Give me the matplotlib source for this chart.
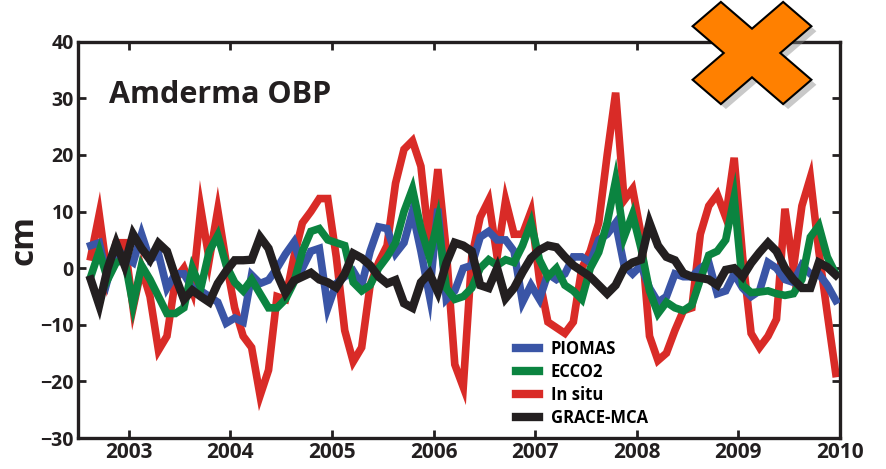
import numpy as np
import matplotlib
matplotlib.use("Agg")
import matplotlib.pyplot as plt
from matplotlib.patches import Polygon

plt.rcParams['font.family'] = ['Open Sans', 'DejaVu Sans']

# monthly values, Aug 2002 .. Dec 2009
t = 2002 + (np.arange(7, 7 + 89) + 0.5) / 12.0

insitu = [2, 9.5, -1.5, 4.5, 4.5, -7, 0, -5, -14.5, -12, -2, 0, -4, 10.5, 1.5, 10.3, 1, -7, -12, -14, -22.5, -18,
          -5, -5.5, 2, 8, 10, 12.3, 12.3, 2, -11, -16.5, -14, -3, 1, 4, 15, 21, 22.5, 18, 4, 17.5, 3, -17, -21,
          2, 9, 12, 2, 12, 6, 6, 10, -2, -9.5, -10.5, -11.5, -9.5, 0, 3, 8, 20, 31, 12, 14, 6,
          -12, -16.3, -15, -11, -7.5, -7, 6, 11, 13, 9, 19.5, 2, -11.5, -14, -12, -9, 10.5, 0, 11, 16, 3, -8, -18.6]

piomas = [4, 4.5, -2, 3.5, 2, 1, 6, 1.5, 2.5, -3.5, -1, -1, -3.5, -4, -5, -6, -9.7, -8.8, -9.5, -1.2, -2.7, -2.1,
          0, 2.5, 4.6, 0, 3, 3.5, -7, -2.7, -1.5, -0.5, -3, 3, 7.3, 7, 2.6, 4.5, 10, 3, -4.8, 10.5, -5.5, -4, 0,
          0.5, 5.5, 6.5, 5, 5, 3, -6, -3, -5.5, -1, -2, -1, 2, 2, 1, 5, 6, 8, 0.5, -1, 0.5,
          -3.5, -6, -5, -1, -1.5, -1.5, 0, 1, -4.5, -4, -1, -3.5, -5, -4, 1, 0, -2, -2.5, 0.5, -1, -1, -3, -5.7]

ecco2 = [-1.5, 3, -2, 1, 1.5, -6.5, 0.5, -2, -5, -8, -8, -7, 0, -3.5, 3, 5.8, 0.5, -2.5, -4, -2, -4.5, -7,
         -7, -5.5, -2.5, 3, 6.5, 7, 5, 4.5, 4, -2.5, -4, -3, 0, 2, 4.5, 10, 14, 7, 2, 8.5, -3.5, -5.5, -5,
         -3.5, 0, 1.5, 0.5, 1.5, 1, 4, 8, 1.5, -1.5, 0, -3, -4, -5.5, 0, 2.8, 8, 15.5, 5.5, 9.5, 3.5,
         -4, -8, -6, -7, -7.5, -6.5, -2, 2.3, 3, 5, 12.5, -3, -4.3, -4.2, -4, -4.5, -4.8, -4.5, -2, 5.5, 7.5, 2, -1]

grace = [-2, -6.5, 0, 4.4, 0.5, 6, 3.5, 1.5, 4.4, 3, -1.5, -5.5, -3.9, -5, -6, -2.7, -0.5, 1.4, 1.4, 1.5, 5.5, 3.5,
         -1, -4.4, -2.2, -1.5, -0.8, -2, -2.5, -3.4, -1, 2.6, 1.8, 0.5, -1.5, -2.7, -2.1, -6.2, -7, -2.5, -0.9, -4.2, 0.9, 4.5, 4,
         3, -3, -3.5, 0, -5.3, -3.5, -0.7, 1.8, 3.2, 4, 3.7, 2, 0.5, -0.5, -1.5, -3, -4.5, -3, 0, 1, 1.5,
         8, 4, 2, 1.4, -0.9, -1.5, -1.7, -2, -3, -0.3, 0, -1.5, 0.9, 2.8, 4.5, 3, 0, -2, -3.5, -3.5, 1, 0.2, -1.2]

years = [2003, 2004, 2005, 2006, 2007, 2008, 2009, 2010]
yticks = [-30, -20, -10, 0, 10, 20, 30, 40]

fig = plt.figure(figsize=(8.87, 4.69), dpi=100)
ax = fig.add_axes([0.088, 0.066, 0.859, 0.845])

lw = 5.5
ax.plot(t, insitu, color='#d92b27', lw=lw, label='In situ', zorder=2, solid_joinstyle='miter')
ax.plot(t, piomas, color='#3a55a6', lw=lw, label='PIOMAS', zorder=3, solid_joinstyle='miter')
ax.plot(t, ecco2, color='#0b8440', lw=lw, label='ECCO2', zorder=4, solid_joinstyle='miter')
ax.plot(t, grace, color='#231f20', lw=lw + 0.5, label='GRACE-MCA', zorder=5, solid_joinstyle='miter')

ax.set_xlim(2002.5, 2010.0)
ax.set_ylim(-30, 40)
ax.set_xticks(years)
ax.set_xticklabels([str(y) for y in years], fontsize=15, fontweight='bold', color='#231f20')
ax.set_yticks(yticks)
ax.set_yticklabels([str(v).replace('-', '\u2212') for v in yticks], fontsize=14, fontweight='bold', color='#231f20')
ax.tick_params(direction='in', length=6, width=2, top=True, right=True, pad=3, color='#231f20')
for s in ax.spines.values():
    s.set_linewidth(2.4)
    s.set_color('#231f20')

ax.set_ylabel('cm', fontsize=24, fontweight='bold', color='#231f20', labelpad=0)
ax.text(0.04, 0.845, 'Amderma OBP', transform=ax.transAxes, fontsize=22, fontweight='bold', color='#231f20')

h, l = ax.get_legend_handles_labels()
order = [1, 2, 0, 3]
leg = ax.legend([h[i] for i in order], [l[i] for i in order], loc='lower left',
                bbox_to_anchor=(0.555, -0.01), frameon=False, handlelength=1.4,
                labelspacing=0.3, handletextpad=0.7, prop={'size': 12, 'weight': 'bold'})
for line in leg.get_lines():
    line.set_linewidth(6)

# orange cross mark in the top right corner
ov = fig.add_axes([0, 0, 1, 1], zorder=10)
ov.set_xlim(0, 887)
ov.set_ylim(469, 0)
ov.axis('off')
w, L = 20, 64
pts = np.array([(w, w), (w, L), (-w, L), (-w, w), (-L, w), (-L, -w),
                (-w, -w), (-w, -L), (w, -L), (w, -w), (L, -w), (L, w)], dtype=float)
c, s = np.cos(np.pi / 4), np.sin(np.pi / 4)
rot = np.column_stack([pts[:, 0] * c - pts[:, 1] * s, (pts[:, 0] * s + pts[:, 1] * c) * 0.86])
ov.add_patch(Polygon(rot + [757, 58], closed=True, fc='#888888', ec='none', alpha=0.45))
ov.add_patch(Polygon(rot + [752, 53], closed=True, fc='#ff8000', ec='black', lw=1.5))

fig.savefig('out.png', dpi=100)
